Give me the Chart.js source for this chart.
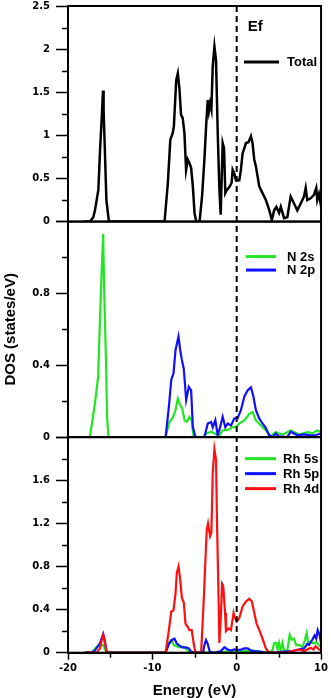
<!DOCTYPE html>
<html><head><meta charset="utf-8">
<script src="https://cdn.jsdelivr.net/npm/chart.js@4.4.0/dist/chart.umd.min.js"></script>
<style>html,body{margin:0;padding:0;background:#fff;}#wrap{width:331px;height:698px;}canvas{display:block;}</style>
</head><body><div id="wrap"><canvas id="c" width="331" height="698" style="width:331px;height:698px"></canvas></div>
<script>
// ---- data (energy in eV, DOS in states/eV) ----
const fermiEnergy = 0;
const seriesLabels = ['Total', 'N 2s', 'N 2p', 'Rh 5s', 'Rh 5p', 'Rh 4d'];

const totalE = [-18,-17.4,-17.0,-16.8,-16.4,-16.2,-16.0,-15.85,-15.78,-15.63,-15.45,-15.15,-8.55,-8.16,-7.87,-7.6,-7.45,-7.17,-6.98,-6.78,-6.6,-6.4,-6.2,-6.0,-5.8,-5.6,-5.4,-5.2,-5.0,-4.8,-4.4,-4.1,-3.83,-3.6,-3.43,-3.3,-3.15,-3.0,-2.84,-2.64,-2.45,-2.25,-2.05,-1.9,-1.66,-1.5,-1.35,-1.2,-0.87,-0.6,-0.48,-0.3,-0.08,0.31,0.5,0.7,0.9,1.1,1.4,1.69,1.88,2.08,2.28,2.67,3.06,3.46,3.85,4.17,4.44,4.71,5.03,5.23,5.62,6.0,6.4,6.8,7.19,7.59,7.98,8.18,8.37,8.77,9.16,9.43,9.55,9.75,9.95,10];
const totalDOS = [0,0,0.05,0.13,0.37,0.83,1.2,1.52,1.3,0.83,0.25,0,0,0.45,0.95,1.02,1.1,1.64,1.72,1.53,1.24,1.2,1.03,0.6,0.72,0.68,0.62,0.41,0.1,0,0,0.3,0.72,1.15,1.41,1.28,1.37,1.3,1.8,2.03,1.87,1.03,0.37,0.08,0.91,0.85,0.33,0.36,0.4,0.45,0.6,0.56,0.48,0.48,0.6,0.79,0.85,0.91,0.92,0.99,0.91,0.72,0.64,0.41,0.33,0.25,0.135,0.02,0.13,0.17,0.1,0.17,0.04,0.05,0.29,0.21,0.13,0.21,0.29,0.39,0.25,0.27,0.31,0.39,0.25,0.32,0.21,0.25];

const n2sE = [-18,-17.4,-16.8,-16.42,-16.22,-16.02,-15.83,-15.71,-15.51,-15.36,-15.2,-8.45,-7.96,-7.57,-7.25,-6.98,-6.7,-6.46,-6.19,-5.91,-5.6,-5.35,-5.1,-4.0,-3.6,-3.0,-2.4,-2.05,-1.66,-1.07,-0.48,-0.1,0.3,0.9,1.49,1.88,2.28,2.67,3.26,3.65,4.0,4.63,5.0,5.5,6.4,6.8,7.4,8.4,9.0,9.55,10];
const n2sDOS = [0,0,0.19,0.34,0.64,0.91,1.13,0.82,0.45,0.11,0,0,0.085,0.11,0.15,0.215,0.18,0.16,0.095,0.085,0.113,0.095,0,0,0.02,0.03,0.015,0.01,0.037,0.04,0.056,0.056,0.075,0.093,0.13,0.14,0.093,0.075,0.047,0.028,0.004,0.028,0.02,0.015,0.037,0.028,0.015,0.028,0.022,0.037,0.028];

const n2pE = [-18,-8.43,-8.04,-7.76,-7.49,-7.25,-6.9,-6.7,-6.5,-6.27,-5.99,-5.68,-5.4,-5.2,-4.89,-3.83,-3.43,-3.03,-2.84,-2.53,-2.25,-2.05,-1.66,-1.35,-1.07,-0.68,-0.28,0.1,0.5,0.9,1.29,1.69,1.96,2.28,2.67,3.06,3.46,3.85,4.24,4.63,5.0,6.0,6.4,7.2,8.0,8.8,9.4,9.95,10];
const n2pDOS = [0,0,0.169,0.318,0.355,0.485,0.56,0.485,0.43,0.38,0.206,0.28,0.26,0.057,0,0,0.076,0.084,0.055,0.095,0.01,0.04,0.113,0.055,0.076,0.065,0.104,0.104,0.15,0.225,0.26,0.277,0.23,0.15,0.104,0.076,0.05,0.01,0,0.02,0.005,0,0.03,0.01,0.015,0.01,0.012,0.02,0.015];

const rh5sE = [-18,-17.2,-16.6,-16.2,-15.83,-15.55,-15.3,-8.43,-8.04,-7.76,-7.45,-7.1,-6.8,-6.46,-6.1,-5.7,-5.3,-3.0,-1.5,0.0,1.0,1.88,2.7,3.65,4.24,4.44,4.7,4.85,5.03,5.2,5.42,5.62,6.0,6.28,6.52,6.8,7.05,7.4,7.8,8.1,8.29,8.5,8.77,9.1,9.43,9.75,10];
const rh5sDOS = [0,0,0.056,0.065,0.07,0.02,0,0,0.093,0.118,0.07,0.06,0.05,0.055,0.04,0.015,0,0,0.01,0.01,0.015,0.02,0.01,0,0.02,0.09,0.09,0.03,0.09,0.015,0.09,0.015,0.02,0.165,0.12,0.13,0.07,0.07,0.055,0.12,0.18,0.085,0.1,0.085,0.1,0.07,0.05];

const rh5pE = [-18,-17.2,-16.8,-16.2,-15.83,-15.65,-15.4,-8.43,-8.04,-7.68,-7.37,-7.1,-6.86,-6.46,-6.0,-5.68,-5.4,-5.0,-4.0,-3.83,-3.64,-3.45,-3.2,-2.7,-1.86,-1.46,-1.07,-0.68,-0.28,0.1,0.5,0.9,1.29,1.69,2.08,2.7,3.46,4.5,5.5,6.6,7.4,7.98,8.37,8.6,8.96,9.23,9.43,9.6,9.8,9.95,10];
const rh5pDOS = [0,0,0.02,0.09,0.174,0.12,0,0,0.08,0.118,0.13,0.085,0.07,0.05,0.05,0.04,0.01,0,0,0.07,0.118,0.085,0.01,0,0.015,0.05,0.03,0.02,0.03,0.025,0.028,0.04,0.04,0.02,0.015,0.01,0,0,0.01,0.015,0.03,0.04,0.08,0.075,0.12,0.16,0.13,0.21,0.17,0.11,0.12];

const rh4dE = [-18,-16.6,-16.2,-16.0,-15.83,-15.65,-15.4,-8.43,-8.04,-7.76,-7.49,-7.25,-7.1,-6.9,-6.7,-6.5,-6.27,-6.07,-5.8,-5.6,-5.33,-5.1,-4.89,-4.22,-3.94,-3.74,-3.55,-3.4,-3.15,-3.0,-2.84,-2.64,-2.45,-2.33,-2.17,-2.05,-1.9,-1.73,-1.6,-1.38,-1.27,-0.96,-0.68,-0.37,-0.2,0.0,0.3,0.7,1.1,1.49,1.8,2.08,2.36,2.75,3.06,3.46,3.85,6.0,6.6,7.4,8.0,8.77,9.1,9.35,9.75,10];
const rh4dDOS = [0,0,0.04,0.12,0.165,0.1,0,0,0.21,0.38,0.395,0.55,0.74,0.8,0.68,0.51,0.465,0.27,0.24,0.21,0.21,0.085,0,0,0.43,0.8,1.14,1.2,1.08,1.11,1.67,1.89,1.79,1.2,0.58,0.09,0.3,0.64,0.62,0.37,0.2,0.225,0.21,0.37,0.32,0.29,0.32,0.43,0.475,0.5,0.475,0.37,0.27,0.195,0.13,0.04,0,0,0.015,0.03,0.015,0.045,0.03,0.06,0.03,0.02];

// axis ranges / tick steps
const energyRange = [-20, 10];
const topRange = [0, 2.5];
const midRange = [0, 1.2];
const botRange = [0, 2.0];

// ---- helpers ----
const pts = (xs, ys) => xs.map((x, i) => ({x: x, y: ys[i]}));
const isMult = (v, step) => { const r = v / step; return Math.abs(r - Math.round(r)) < 1e-6; };
const fmt = v => String(Math.round(v * 100) / 100);
const GREEN = '#22e622', BLUE = '#1010ff', RED = '#ff1010', BLACK = '#000000';
const tickFont = {family: '"DejaVu Sans", sans-serif', size: 10, weight: 'bold'};
const titleFont = {family: '"Liberation Sans", Arial, sans-serif', size: 15, weight: 'bold', lineHeight: 1};

const majorSteps = {x: 10, yTop: 0.5, yMid: 0.4, yBot: 0.4};

function yScale(range, minorStep, majorStep, stackW, weight, extra) {
  const s = {
    type: 'linear', position: 'left', stack: 'dos', stackWeight: stackW, weight: weight,
    min: range[0], max: range[1],
    ticks: {
      stepSize: minorStep, autoSkip: false, font: tickFont, color: BLACK, padding: 6,
      callback: v => (isMult(v, majorStep) && v < range[1] - 1e-9 + (extra ? 1 : 0)) ? fmt(v) : ''
    },
    grid: {drawOnChartArea: false, tickLength: 12, tickWidth: 1.5,
      tickColor: c => (c.tick && isMult(c.tick.value, majorStep)) ? BLACK : 'rgba(0,0,0,0)'},
    border: {display: true, color: BLACK, width: 2},
    afterFit: sc => { sc.width = 68; sc.paddingTop = 0; sc.paddingBottom = 0; }
  };
  return s;
}

const scaleTop = yScale(topRange, 0.25, 0.5, 1, 3, true);
const scaleMid = yScale(midRange, 0.2, 0.4, 1, 2, false);
scaleMid.title = {display: true, text: 'DOS (states/eV)', font: titleFont, color: BLACK, padding: {top: 3.5, bottom: 0}};
const scaleBot = yScale(botRange, 0.2, 0.4, 1, 1, false);

const legendLayout = {
  yTop: {first: 56, gap: 14, lineL: 77, lineR: 42, text: 34},
  yMid: {first: 35, gap: 13.5, lineL: 75, lineR: 45, text: 34},
  yBot: {first: 21.5, gap: 15, lineL: 76, lineR: 45, text: 38}
};

const panelPlugin = {
  id: 'panels',
  afterDatasetsDraw(chart) {
    const {ctx, chartArea: a, scales} = chart;
    const xs = scales.x;
    ctx.save();
    // minor ticks
    ctx.strokeStyle = BLACK; ctx.lineWidth = 1.5;
    ['yTop', 'yMid', 'yBot'].forEach(id => {
      const s = scales[id];
      s.ticks.forEach(t => {
        if (!isMult(t.value, majorSteps[id])) {
          const y = Math.round(s.getPixelForValue(t.value)) + 0.5;
          ctx.beginPath(); ctx.moveTo(s.right - 6, y); ctx.lineTo(s.right, y); ctx.stroke();
        }
      });
    });
    xs.ticks.forEach(t => {
      if (!isMult(t.value, majorSteps.x)) {
        const x = Math.round(xs.getPixelForValue(t.value)) + 0.5;
        ctx.beginPath(); ctx.moveTo(x, xs.top); ctx.lineTo(x, xs.top + 5); ctx.stroke();
      }
    });
    // panel frames
    ctx.lineWidth = 2;
    ['yTop', 'yMid', 'yBot'].forEach(id => {
      const s = scales[id];
      ctx.strokeRect(a.left, s.top, a.right - a.left, s.bottom - s.top);
    });
    // Fermi level
    const xf = xs.getPixelForValue(fermiEnergy);
    ctx.setLineDash([6, 4]);
    ctx.beginPath(); ctx.moveTo(xf, a.top); ctx.lineTo(xf, a.bottom); ctx.stroke();
    ctx.setLineDash([]);
    ctx.fillStyle = BLACK;
    ctx.font = 'bold 15px "Liberation Sans", Arial, sans-serif';
    ctx.textBaseline = 'alphabetic'; ctx.textAlign = 'left';
    ctx.fillText('Ef', xf + 11, scales.yTop.top + 24.5);
    // legends
    ctx.font = 'bold 13px "Liberation Sans", Arial, sans-serif';
    ctx.textBaseline = 'middle';
    const counters = {};
    chart.data.datasets.forEach(ds => {
      const id = ds.yAxisID, L = legendLayout[id], s = scales[id];
      const k = counters[id] || 0; counters[id] = k + 1;
      const y = s.top + L.first + k * L.gap;
      ctx.strokeStyle = ds.borderColor; ctx.lineWidth = 3;
      ctx.beginPath(); ctx.moveTo(a.right - L.lineL, y); ctx.lineTo(a.right - L.lineR, y); ctx.stroke();
      ctx.fillText(ds.label, a.right - L.text, y + 0.5);
    });
    ctx.restore();
  }
};

const mk = (label, xs, ys, axis, color, width, order) => ({
  label: label, data: pts(xs, ys), yAxisID: axis, borderColor: color, backgroundColor: color,
  borderWidth: width, pointRadius: 0, tension: 0, fill: false, order: order
});

new Chart(document.getElementById('c'), {
  type: 'line',
  data: {datasets: [
    mk(seriesLabels[0], totalE, totalDOS, 'yTop', BLACK, 2.5, 0),
    mk(seriesLabels[1], n2sE, n2sDOS, 'yMid', GREEN, 2.2, 2),
    mk(seriesLabels[2], n2pE, n2pDOS, 'yMid', BLUE, 2.2, 1),
    mk(seriesLabels[3], rh5sE, rh5sDOS, 'yBot', GREEN, 2.2, 3),
    mk(seriesLabels[4], rh5pE, rh5pDOS, 'yBot', BLUE, 2.2, 2),
    mk(seriesLabels[5], rh4dE, rh4dDOS, 'yBot', RED, 2.2, 1)
  ]},
  options: {
    responsive: false, animation: false, devicePixelRatio: 1,
    layout: {padding: {top: 6, right: 9, bottom: 0, left: 0}},
    plugins: {legend: {display: false}, tooltip: {enabled: false}},
    scales: {
      x: {
        type: 'linear', position: 'bottom', min: energyRange[0], max: energyRange[1],
        ticks: {stepSize: 5, autoSkip: false, maxRotation: 0, font: tickFont, color: BLACK, padding: 3,
          callback: v => isMult(v, 10) ? String(v) : ''},
        grid: {drawOnChartArea: false, tickLength: 7, tickWidth: 1.5,
          tickColor: c => (c.tick && isMult(c.tick.value, 10)) ? BLACK : 'rgba(0,0,0,0)'},
        border: {display: true, color: BLACK, width: 2},
        title: {display: true, text: 'Energy (eV)', font: titleFont, color: BLACK, padding: {top: 0, bottom: 0}},
        afterFit: sc => { sc.height = 45.3; }
      },
      yBot: scaleBot,
      yMid: scaleMid,
      yTop: scaleTop
    }
  },
  plugins: [panelPlugin]
});
</script>
</body></html>
